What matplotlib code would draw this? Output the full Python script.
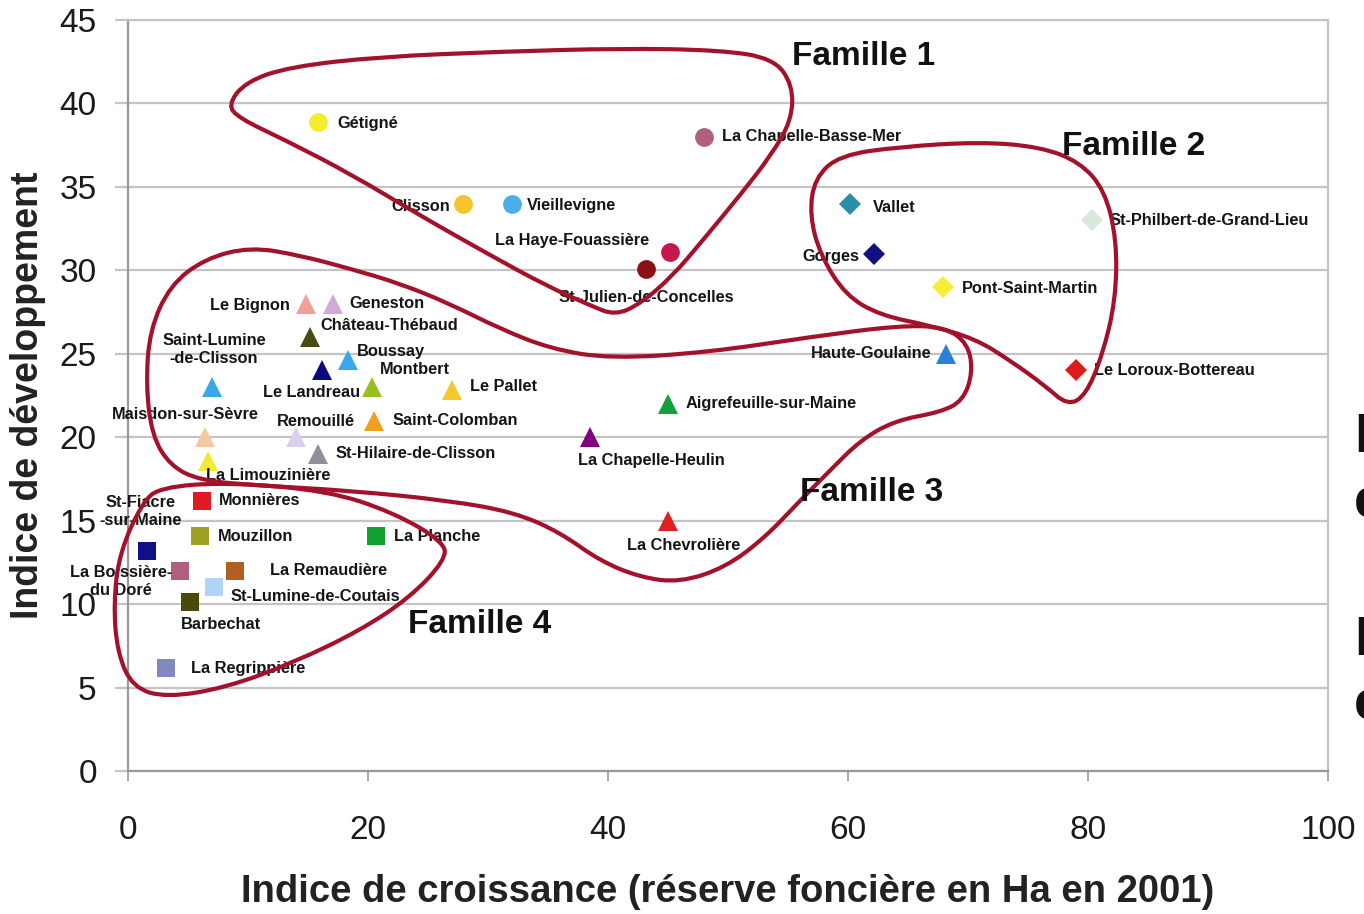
import numpy as np
import matplotlib
matplotlib.use("Agg")
import matplotlib.pyplot as plt
from matplotlib.path import Path
from matplotlib.patches import PathPatch

plt.rcParams["font.family"] = ["Liberation Sans", "DejaVu Sans"]

# Famille 1 (cercles)
fam1_names = ["Gétigné", "La Chapelle-Basse-Mer", "Clisson", "Vieillevigne",
              "La Haye-Fouassière", "St-Julien-de-Concelles"]
fam1_x = [15.8, 48.0, 27.9, 32.0, 45.2, 43.2]
fam1_y = [38.9, 38.0, 34.0, 34.0, 31.1, 30.1]
fam1_colors = ["#f4ec2c", "#b0607e", "#f5c42c", "#4aaee8", "#c8174a", "#8b1212"]

# Famille 2 (losanges)
fam2_names = ["Vallet", "Gorges", "St-Philbert-de-Grand-Lieu", "Pont-Saint-Martin",
              "Le Loroux-Bottereau"]
fam2_x = [60.2, 62.2, 80.3, 67.9, 79.0]
fam2_y = [34.0, 31.0, 33.0, 29.0, 24.0]
fam2_colors = ["#2a90a8", "#10107f", "#d6eadb", "#f6ee34", "#e01a1a"]

# Famille 3 (triangles)
fam3_names = ["Le Bignon", "Geneston", "Château-Thébaud", "Boussay", "Le Landreau",
              "Montbert", "Saint-Lumine\n-de-Clisson", "Le Pallet", "Maisdon-sur-Sèvre",
              "Remouillé", "Saint-Colomban", "St-Hilaire-de-Clisson", "La Limouzinière",
              "Aigrefeuille-sur-Maine", "La Chapelle-Heulin", "La Chevrolière",
              "Haute-Goulaine"]
fam3_x = [14.8, 17.1, 15.2, 18.3, 16.2, 20.3, 7.0, 27.0, 6.4, 14.0, 20.5, 15.8, 6.7,
          45.0, 38.5, 45.0, 68.2]
fam3_y = [28.0, 28.0, 26.0, 24.6, 24.0, 23.0, 23.0, 22.8, 20.0, 20.0, 21.0, 19.0, 18.6,
          22.0, 20.0, 15.0, 25.0]
fam3_colors = ["#f0a098", "#d2aad8", "#4a4a12", "#3aa8e8", "#0a0a80", "#98c022",
               "#3aa8e8", "#f5c830", "#f5c8a0", "#d8d0ee", "#f0a020", "#909098",
               "#f0ec30", "#12a040", "#800080", "#e02020", "#2a80d8"]

# Famille 4 (carrés)
fam4_names = ["Monnières", "Mouzillon", "La Planche", "St-Fiacre\n-sur-Maine",
              "La Boissière-\ndu Doré", "La Remaudière", "St-Lumine-de-Coutais",
              "Barbechat", "La Regrippière"]
fam4_x = [6.2, 6.0, 20.7, 1.6, 4.3, 8.9, 7.2, 5.2, 3.2]
fam4_y = [16.2, 14.1, 14.1, 13.2, 12.0, 12.0, 11.0, 10.1, 6.2]
fam4_colors = ["#e01a22", "#a0a022", "#12a030", "#10108a", "#b0607e", "#b06022",
               "#b0d4f5", "#4a4a0a", "#8088c0"]

# contours des familles (coordonnées du graphique)
fam1_outline = [(8.3, 39.9), (9.8, 41.3), (13.5, 42.2), (21.0, 42.8), (31.0, 43.1),
                (41.0, 43.3), (49.3, 43.2), (53.8, 42.7), (55.4, 41.1), (55.3, 39.0),
                (53.6, 36.9), (51.0, 34.5), (47.9, 31.8), (45.3, 29.6), (42.7, 28.0),
                (40.6, 27.3), (38.5, 27.9), (34.8, 29.1), (30.2, 30.9), (24.3, 33.3),
                (18.5, 35.8), (13.1, 37.8), (9.3, 39.1)]
fam2_outline = [(57.2, 35.5), (59.3, 36.9), (64.3, 37.4), (71.0, 37.7), (76.0, 37.4),
                (79.3, 36.5), (81.4, 34.8), (82.4, 31.8), (82.3, 28.2), (81.2, 24.9),
                (79.8, 22.5), (78.3, 21.9), (76.4, 23.1), (73.5, 24.6), (70.6, 25.9),
                (66.8, 26.7), (62.7, 27.3), (59.8, 28.5), (57.7, 30.9), (56.8, 33.3)]
fam3_outline = [(1.8, 26.4), (3.5, 29.1), (6.4, 30.7), (10.2, 31.4), (14.3, 30.9),
                (18.5, 30.1), (22.7, 29.2), (26.8, 28.0), (31.0, 26.5), (35.2, 25.3),
                (40.2, 24.7), (48.5, 25.1), (56.8, 26.0), (64.3, 26.7), (68.1, 26.6),
                (70.0, 25.6), (70.4, 23.9), (69.6, 22.2), (67.7, 21.5), (63.9, 21.0),
                (61.0, 19.8), (58.5, 18.0), (56.0, 16.2), (53.1, 14.0), (49.8, 12.2),
                (46.0, 11.3), (42.7, 11.6), (39.3, 12.6), (36.0, 14.3), (32.2, 15.5),
                (26.8, 16.2), (18.5, 16.8), (11.0, 17.1), (6.0, 17.4), (3.5, 18.3),
                (2.0, 20.1), (1.5, 23.1)]
fam4_outline = [(1.2, 16.1), (2.7, 17.0), (8.2, 17.3), (16.6, 16.8), (22.1, 15.5),
                (26.4, 13.7), (26.4, 12.6), (23.5, 10.4), (19.3, 8.4), (13.8, 6.5),
                (8.2, 5.0), (3.2, 4.4), (0.4, 5.0), (-0.9, 7.1), (-1.2, 10.1),
                (-0.7, 13.1)]

family_titles = ["Famille 1", "Famille 2", "Famille 3", "Famille 4"]
family_title_pos = [(55.3, 42.8), (77.8, 37.4), (56.0, 16.7), (23.3, 8.75)]

x_ticks = [0, 20, 40, 60, 80, 100]
y_ticks = [0, 5, 10, 15, 20, 25, 30, 35, 40, 45]

# placement des étiquettes : décalage en points, alignement horizontal
label_pos = {
    "Gétigné": (14, -1.5, "left"),
    "La Chapelle-Basse-Mer": (13, 0, "left"),
    "Clisson": (-9, -2, "right"),
    "Vieillevigne": (11, -1.5, "left"),
    "La Haye-Fouassière": (-15, 8.5, "right"),
    "St-Julien-de-Concelles": (0, -21, "center"),
    "Vallet": (16, -3, "left"),
    "Gorges": (-11, -2, "right"),
    "St-Philbert-de-Grand-Lieu": (13, 0, "left"),
    "Pont-Saint-Martin": (14, -1, "left"),
    "Le Loroux-Bottereau": (13, 0, "left"),
    "Le Bignon": (-11.5, -1.5, "right"),
    "Geneston": (12, 0, "left"),
    "Château-Thébaud": (7, 8, "left"),
    "Boussay": (7, 6.5, "left"),
    "Le Landreau": (-8, -16, "center"),
    "Montbert": (6, 13, "left"),
    "Saint-Lumine\n-de-Clisson": (1.5, 27, "center"),
    "Le Pallet": (13, 3, "left"),
    "Maisdon-sur-Sèvre": (-14, 16, "center"),
    "Remouillé": (14, 11.5, "center"),
    "Saint-Colomban": (13, 0, "left"),
    "St-Hilaire-de-Clisson": (13, 0.5, "left"),
    "La Limouzinière": (-2, -11, "left"),
    "Aigrefeuille-sur-Maine": (13, 0, "left"),
    "La Chapelle-Heulin": (-9, -16.5, "left"),
    "La Chevrolière": (11.5, -18, "center"),
    "Haute-Goulaine": (-11, 0, "right"),
    "Monnières": (12, 0, "left"),
    "Mouzillon": (13, -0.5, "left"),
    "La Planche": (13, -0.5, "left"),
    "St-Fiacre\n-sur-Maine": (-5, 28, "center"),
    "La Boissière-\ndu Doré": (-42, -8, "center"),
    "La Remaudière": (25, 0, "left"),
    "St-Lumine-de-Coutais": (11.5, -6.5, "left"),
    "Barbechat": (-7, -16, "left"),
    "La Regrippière": (18, -0.7, "left"),
}


def closed_curve(pts):
    # courbe fermée lissée (B-spline quadratique) passant par les milieux des côtés
    pts = np.asarray(pts, dtype=float)
    mids = (pts + np.roll(pts, -1, axis=0)) / 2
    verts = [mids[-1]]
    codes = [Path.MOVETO]
    for p, m in zip(pts, mids):
        verts += [p, m]
        codes += [Path.CURVE3, Path.CURVE3]
    return Path(verts, codes)


fig = plt.figure(figsize=(13.64, 9.14), dpi=100)
ax = fig.add_axes([128 / 1364, 1 - 771 / 914, 1200 / 1364, 751 / 914])

groups = [
    (fam1_names, fam1_x, fam1_y, fam1_colors, "o", 13.5),
    (fam2_names, fam2_x, fam2_y, fam2_colors, "D", 11),
    (fam3_names, fam3_x, fam3_y, fam3_colors, "^", 14),
    (fam4_names, fam4_x, fam4_y, fam4_colors, "s", 13),
]
for names, xs, ys, cols, mk, ms in groups:
    for n, x, y, c in zip(names, xs, ys, cols):
        ax.plot(x, y, marker=mk, ms=ms, color=c, mew=0, ls="none", zorder=3)
        dx, dy, ha = label_pos[n]
        ax.annotate(n, (x, y), xytext=(dx, dy), textcoords="offset points",
                    ha=ha, va="center", fontsize=11.8, fontweight="bold",
                    color="#151515", linespacing=1.25, zorder=4)

for outline in [fam1_outline, fam2_outline, fam3_outline, fam4_outline]:
    ax.add_patch(PathPatch(closed_curve(outline), fill=False, edgecolor="#a3122a",
                           lw=3, clip_on=False, zorder=5))

for t, (tx, ty) in zip(family_titles, family_title_pos):
    ax.text(tx, ty, t, fontsize=24, fontweight="bold", color="#111111",
            ha="left", va="center", zorder=6)

ax.set_xlim(0, 100)
ax.set_ylim(0, 45)
ax.set_xticks(x_ticks)
ax.set_yticks(y_ticks)
ax.grid(axis="y", color="#c4c4c4", lw=1.6)
ax.set_axisbelow(True)
ax.tick_params(axis="y", length=9.5, width=1.6, color="#c4c4c4", pad=13,
               labelsize=24, labelcolor="#1a1a1a")
ax.tick_params(axis="x", length=7, width=1.2, color="#999999", pad=25,
               labelsize=24, labelcolor="#1a1a1a")
for side in ["left", "bottom"]:
    ax.spines[side].set_color("#999999")
    ax.spines[side].set_linewidth(1.6)
for side in ["top", "right"]:
    ax.spines[side].set_color("#c4c4c4")
    ax.spines[side].set_linewidth(1.6)

ax.set_xlabel("Indice de croissance (réserve foncière en Ha en 2001)",
              fontsize=27.5, fontweight="bold", color="#222222")
ax.xaxis.set_label_coords(0.5, -0.137)
ax.set_ylabel("Indice de développement", fontsize=27, fontweight="bold",
              color="#222222")
ax.yaxis.set_label_coords(-0.068, 0.5)

# texte voisin coupé au bord droit
for txt, ypx in [("L", 452), ("e", 517), ("L", 655), ("e", 720)]:
    fig.text(1354 / 1364, 1 - ypx / 914, txt, fontsize=40, fontweight="bold",
             color="#111111", ha="left", va="baseline")

fig.savefig("out.png", dpi=100)
